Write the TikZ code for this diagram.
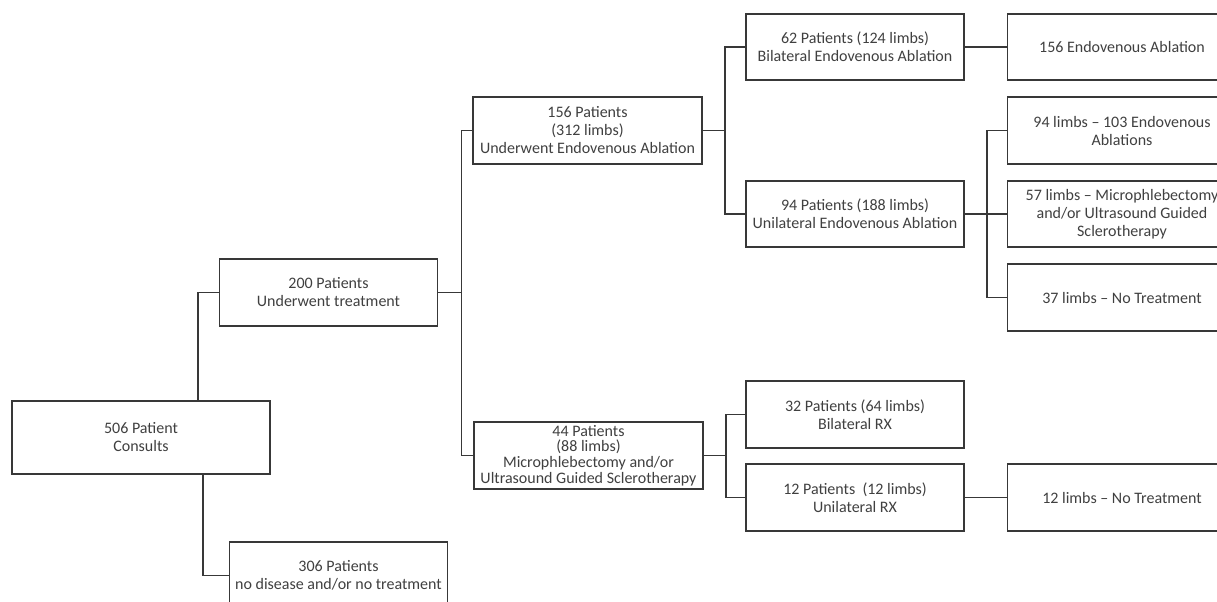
\documentclass[tikz,border=0pt]{standalone}
\usepackage{fontspec}
\setmainfont{Carlito}
\usepackage{tikz}

\definecolor{lineGray}{HTML}{383838}
\definecolor{textGray}{HTML}{404040}

\tikzset{
  flowbox/.style={draw=lineGray, line width=1.4pt, text=textGray, align=center,
    font=\fontsize{12}{13.5}\selectfont, inner sep=2pt,
    minimum width=163.5pt, minimum height=50pt},
  widebox/.style={flowbox, minimum width=171.75pt},
  link/.style={draw=lineGray, line width=1.4pt},
}

\begin{document}
\begin{tikzpicture}[x=0.75pt,y=-0.75pt]
\clip (0,0) rectangle (1217,601);
\fill[white] (0,0) rectangle (1217,601);

% left part
\node[flowbox, minimum width=193.5pt, minimum height=54.75pt] (consult) at (141,437.5) {506 Patient\\Consults};
\node[flowbox] (treated) at (328.5,292.5) {200 Patients\\Underwent treatment};
\node[flowbox] (none) at (338.5,575.5) {306 Patients\\no disease and/or no treatment};

% second column
\node[widebox] (ablation) at (587.5,130.5) {156 Patients\\(312 limbs)\\Underwent Endovenous Ablation};
\node[widebox, font=\fontsize{12}{11.8}\selectfont, inner ysep=0pt] (sclero) at (588.5,455.5) {44 Patients\\(88 limbs)\\Microphlebectomy and/or\\Ultrasound Guided Sclerotherapy};

% third column
\node[flowbox] (bilabl) at (855,47) {62 Patients (124 limbs)\\Bilateral Endovenous Ablation};
\node[flowbox] (unilabl) at (855,214) {94 Patients (188 limbs)\\Unilateral Endovenous Ablation};
\node[flowbox] (bilrx) at (855,414.5) {32 Patients (64 limbs)\\Bilateral RX};
\node[flowbox] (unirx) at (855,497.5) {12 Patients~ (12 limbs)\\Unilateral RX};

% right column
\node[widebox] (endo156) at (1122,47) {156 Endovenous Ablation};
\node[widebox] (limbs94) at (1122,130.5) {94 limbs -- 103 Endovenous\\Ablations};
\node[widebox] (limbs57) at (1122,214) {57 limbs -- Microphlebectomy\\and/or Ultrasound Guided\\Sclerotherapy};
\node[widebox] (limbs37) at (1122,297.5) {37 limbs -- No Treatment};
\node[widebox] (limbs12) at (1122,497.5) {12 limbs -- No Treatment};

% connectors
\draw[link] ([xshift=42.75pt]consult.north) |- (treated);
\draw[link] ([xshift=46.5pt]consult.south) |- (none);

\draw[link] (treated.east) -- ++(23,0) coordinate (fork1);
\draw[link] (ablation.west) -| (fork1) |- (sclero.west);

\draw[link] (ablation.east) -- ++(22,0) coordinate (fork2);
\draw[link] (bilabl.west) -| (fork2) |- (unilabl.west);

\draw[link] (unilabl.east) -- ++(22,0) coordinate (fork3);
\draw[link] (limbs94.west) -| (fork3) |- (limbs37.west);
\draw[link] (fork3) -- (limbs57.west);

\draw[link] (sclero.east) -- ++(22,0) coordinate (fork4);
\draw[link] (bilrx.west) -| (fork4) |- (unirx.west);

\draw[link] (bilabl) -- (endo156);
\draw[link] (unirx) -- (limbs12);

\end{tikzpicture}
\end{document}
